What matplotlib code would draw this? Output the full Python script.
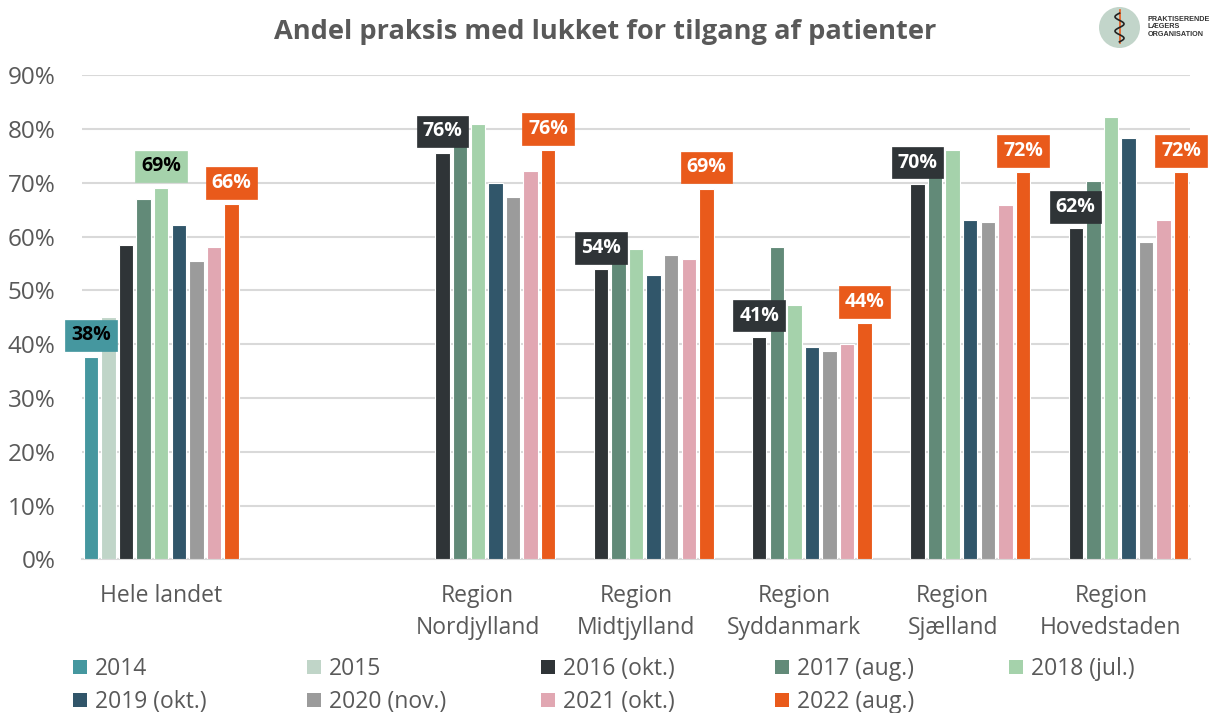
import numpy as np
import matplotlib
matplotlib.use('Agg')
import matplotlib.pyplot as plt
from matplotlib.patches import Circle, Rectangle

plt.rcParams['font.family'] = ['Open Sans', 'DejaVu Sans']

# data (percent), NaN where a series has no bar
categories = ['Hele landet', '', 'Region\nNordjylland', 'Region\nMidtjylland',
              'Region\nSyddanmark', 'Region\nSjælland', 'Region\nHovedstaden']
series = ['2014', '2015', '2016 (okt.)', '2017 (aug.)', '2018 (jul.)',
          '2019 (okt.)', '2020 (nov.)', '2021 (okt.)', '2022 (aug.)']
nan = np.nan
v2014 = [37.7, nan, nan, nan, nan, nan, nan]
v2015 = [45.0, nan, nan, nan, nan, nan, nan]
v2016 = [58.5, nan, 75.6, 54.0, 41.4, 69.8, 61.5]
v2017 = [67.0, nan, 79.0, 56.0, 58.1, 71.5, 70.4]
v2018 = [69.1, nan, 80.9, 57.7, 47.2, 76.1, 82.2]
v2019 = [62.2, nan, 69.9, 52.8, 39.4, 63.0, 78.3]
v2020 = [55.5, nan, 67.4, 56.5, 38.7, 62.7, 59.0]
v2021 = [58.0, nan, 72.1, 55.9, 40.0, 65.9, 63.0]
v2022 = [66.0, nan, 76.0, 68.9, 43.9, 72.0, 72.0]
values = [v2014, v2015, v2016, v2017, v2018, v2019, v2020, v2021, v2022]

colors = ['#45979f', '#c0d5c8', '#2f3437', '#628a78', '#a5d2ab',
          '#31566a', '#9b9b9b', '#e1a7b2', '#e95a1b']
label_text_colors = ['black', 'black', 'white', 'white', 'black',
                     'white', 'white', 'black', 'white']

# which series get a value label in each category
labelled = {0: [0, 4, 8], 2: [2, 8], 3: [2, 8], 4: [2, 8], 5: [2, 8], 6: [2, 8]}

GREY = '#595959'

fig = plt.figure(figsize=(12.1, 7.13), dpi=100, facecolor='white')
ax = fig.add_axes([0.0678, 0.2153, 0.9157, 0.6795])

n = len(series)
slot = 1.0 / n
x = np.arange(len(categories))
for i, (vals, c) in enumerate(zip(values, colors)):
    ax.bar(x + (i - (n - 1) / 2) * slot, vals, width=slot * 0.82, color=c,
           edgecolor='white', linewidth=0.8, zorder=3)

for ci, idxs in labelled.items():
    for i in idxs:
        v = values[i][ci]
        ax.annotate(f'{v:.0f}%', (x[ci] + (i - (n - 1) / 2) * slot, v),
                    xytext=(0, 8), textcoords='offset points',
                    ha='center', va='bottom', fontsize=14, fontweight='bold',
                    color=label_text_colors[i], zorder=5,
                    bbox=dict(boxstyle='square,pad=0.3', facecolor=colors[i],
                              edgecolor=colors[i], linewidth=0.5))

ax.set_xlim(-0.5, len(categories) - 0.5)
ax.set_ylim(0, 90)
ax.set_yticks(np.arange(0, 91, 10))
ax.set_yticklabels([f'{t}%' for t in range(0, 91, 10)], fontsize=17.5, color=GREY)
ax.set_xticks(x)
ax.set_xticklabels(categories, fontsize=16.5, color=GREY, linespacing=1.4, va='top')
ax.tick_params(length=0)
ax.tick_params(axis='x', pad=18)
ax.tick_params(axis='y', pad=19)
ax.yaxis.grid(True, color='#d9d9d9', linewidth=1.5, zorder=0)
ax.set_axisbelow(True)
for s in ['top', 'right', 'left']:
    ax.spines[s].set_visible(False)
ax.spines['bottom'].set_color('#d9d9d9')
ax.spines['bottom'].set_linewidth(1.5)

fig.text(0.5, 0.955, 'Andel praksis med lukket for tilgang af patienter',
         ha='center', va='center', fontsize=19.6, fontweight='bold', color=GREY)

# legend laid out in even columns like the original
for i, (lab, c) in enumerate(zip(series, colors)):
    col, row = i % 5, i // 5
    lx = 73 + col * 234
    ly = 669 + row * 33
    fig.patches.append(Rectangle((lx / 1210, 1 - (ly + 5) / 713), 14 / 1210, 14 / 713,
                                 transform=fig.transFigure, facecolor=c,
                                 edgecolor='none'))
    fig.text((lx + 22) / 1210, 1 - ly / 713, lab, ha='left', va='center',
             fontsize=16.5, color=GREY)

# logo
lax = fig.add_axes([1099 / 1210, 1 - 48 / 713, 41 / 1210, 41 / 713])
lax.set_xlim(-1, 1)
lax.set_ylim(-1, 1)
lax.set_aspect('equal')
lax.axis('off')
lax.add_patch(Circle((0, 0), 1, facecolor='#c2d5ca', edgecolor='none'))
lax.plot([0, 0], [-0.75, 0.85], color='#e95a1b', linewidth=1.2)
ts = np.linspace(-0.7, 0.7, 60)
lax.plot(0.22 * np.sin(ts * 9), ts, color='#222222', linewidth=1.2)
fig.text(1148 / 1210, 1 - 27 / 713, 'PRAKTISERENDE\nLÆGERS\nORGANISATION',
         ha='left', va='center', fontsize=5.2, fontweight='bold', color='#333333',
         linespacing=1.05, family=['Liberation Sans Narrow', 'Liberation Sans', 'DejaVu Sans'])

fig.savefig('out.png', dpi=100, facecolor='white')
